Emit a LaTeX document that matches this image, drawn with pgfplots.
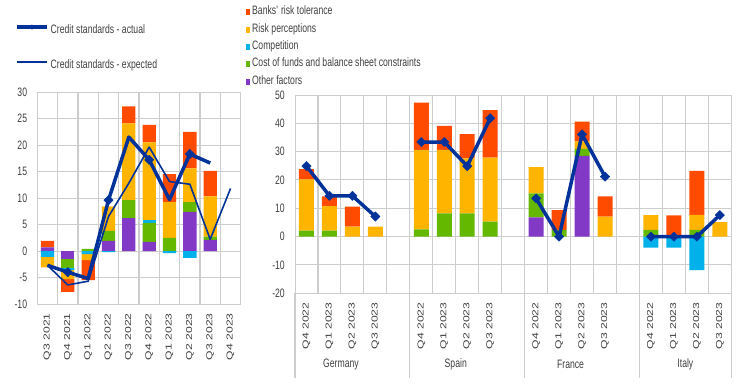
\documentclass[border=0pt]{standalone}
\usepackage{fontspec}
\setmainfont{Liberation Sans}[FakeStretch=0.71]
\newfontfamily\rotfont{Liberation Sans}
\usepackage{pgfplots}
\pgfplotsset{compat=1.18}
\usepackage{pgfplotstable}
\definecolor{cRed}{HTML}{FF4B00}
\definecolor{cYel}{HTML}{FFB400}
\definecolor{cCya}{HTML}{00B1EA}
\definecolor{cGre}{HTML}{65B800}
\definecolor{cPur}{HTML}{8139C6}
\definecolor{cLine}{HTML}{003299}
\definecolor{gridc}{HTML}{CDCDCD}
\definecolor{txt}{HTML}{404040}
\newcommand\fs{\fontsize{12.2}{14}\selectfont}
\newcommand\sq[1]{\scalebox{1}[0.71]{\rotfont #1}}
\tikzset{vgrid/.style={gridc, line width=1.1pt}}

\pgfplotstableread{
x oth cost comp risk bank
0 0.7 0 0 0 1.2
1 0 0 0 0 0
2 0 0.4 0 0 0
3 1.9 1.9 0 4.6 0
4 6.2 3.4 0 14.5 3.2
5 1.7 3.6 0.5 14.7 3.3
6 0 2.5 0 6.7 5.3
7 7.4 1.8 0 6.4 6.9
8 2.1 0.6 0 7.6 4.8
}\LposT
\pgfplotstableread{
x oth cost comp risk bank
0 0 0 -1.1 -2.0 0
1 -1.6 -1.6 -0.4 -1.7 -2.4
2 0 0 -0.6 -1.1 -3.8
3 0 0 -0.2 0 0
6 0 0 -0.4 0 0
7 0 0 -1.3 0 0
}\LnegT
\pgfplotstableread{
x oth cost comp risk bank
0 0 2.1 0 18.1 3.6
1 0 2.1 0 8.7 3.4
2 0 0 0 3.5 7.1
3 0 0 0 3.5 0
5 0 2.6 0 28.0 16.7
6 0 8.2 0 22.4 8.5
7 0 8.2 0 19.4 8.6
8 0 5.3 0 22.6 16.8
10 6.8 8.5 0 9.2 0
11 0 2.4 0 0 7.0
12 28.5 2.5 0 2.6 7.0
13 0 0 0 7.1 7.1
15 0 2.4 0 5.2 0
16 0 0 0 0 7.5
17 0 2.4 0 5.3 15.5
18 0 0 0 5.1 0
}\RposT
\pgfplotstableread{
x comp
15 -3.9
16 -3.9
17 -11.8
}\RnegT

\pgfplotsset{
  base/.style={scale only axis, anchor=south west, enlargelimits=false,
    /pgf/number format/assume math mode=true,
    tick label style={font=\fs, text=txt}},
  Lgeom/.style={at={(37.3pt,80pt)}, width=203.4pt, height=212pt,
    xmin=-0.5, xmax=9.5, ymin=-10, ymax=30},
  Rgeom/.style={at={(295pt,90.7pt)}, width=436.3pt, height=198.3pt,
    xmin=-0.5, xmax=18.5, ymin=-20, ymax=50},
  frame/.style={axis line style={gridc, line width=1pt},
    grid style={gridc, line width=1pt},
    major tick length=0pt,
    tick align=outside, xtick pos=left, ytick pos=left,
    ymajorgrids=true,
    yticklabel style={inner sep=0pt, xshift=-10pt},
    xticklabel style={rotate=90, anchor=east, inner sep=0pt},
    xticklabel shift=9pt},
  sqleg/.style={legend image code/.code={\fill[##1] (0pt,-3pt) rectangle (4pt,3pt);}},
  actleg/.style={legend image code/.code={\draw[##1, mark size=1.6pt] plot coordinates {(0pt,3.5pt) (15pt,3.5pt) (30pt,3.5pt)};}},
  expleg/.style={legend image code/.code={\draw[##1] (0pt,3.5pt) -- (30pt,3.5pt);}},
  actual/.style={cLine, line width=3.5pt, line join=round, mark=square*, mark size=3.3pt,
    mark options={rotate=45, line width=0.4pt, solid}},
}

\begin{document}
\begin{tikzpicture}
\useasboundingbox (0,0) rectangle (743pt,384pt);
% ---------------- left panel ----------------
\begin{axis}[base, Lgeom, frame, ybar stacked, bar width=13.3pt,
  ytick={-10,-5,...,30},
  xtick={0,...,9},
  xticklabels={\sq{Q3 2021},\sq{Q4 2021},\sq{Q1 2022},\sq{Q2 2022},\sq{Q3 2022},\sq{Q4 2022},\sq{Q1 2023},\sq{Q2 2023},\sq{Q3 2023},\sq{Q4 2023}}]
\pgfplotsinvokeforeach{0.5,1.5,2.5,3.5,4.5,5.5,6.5,7.5,8.5}{
  \draw[vgrid] (axis cs:#1,-10) -- (axis cs:#1,30);
}
\addplot[fill=cPur, draw=none] table[x=x,y=oth]{\LposT};
\addplot[fill=cGre, draw=none] table[x=x,y=cost]{\LposT};
\addplot[fill=cCya, draw=none] table[x=x,y=comp]{\LposT};
\addplot[fill=cYel, draw=none] table[x=x,y=risk]{\LposT};
\addplot[fill=cRed, draw=none] table[x=x,y=bank]{\LposT};
\end{axis}
\begin{axis}[base, Lgeom, hide axis, ybar stacked, bar width=13.3pt]
\addplot[fill=cPur, draw=none] table[x=x,y=oth]{\LnegT};
\addplot[fill=cGre, draw=none] table[x=x,y=cost]{\LnegT};
\addplot[fill=cCya, draw=none] table[x=x,y=comp]{\LnegT};
\addplot[fill=cYel, draw=none] table[x=x,y=risk]{\LnegT};
\addplot[fill=cRed, draw=none] table[x=x,y=bank]{\LnegT};
\end{axis}
\begin{axis}[base, Lgeom, hide axis,
  legend cell align=left,
  legend style={at={(-0.1096,1.318)}, anchor=north west, draw=none, fill=none,
    font=\fs, text=txt, inner sep=0pt, row sep=24pt,
    nodes={inner sep=0pt, text height=8pt, text depth=3pt},
    /tikz/every odd column/.append style={column sep=2pt}}]
\addplot[actual, actleg, mark repeat=2, mark phase=2]
  coordinates {(0,-2.7) (1,-4.0) (2,-5.2) (3,9.6) (4,21.5) (5,17.2) (6,9.7) (7,18.3) (8,16.6)};
\addlegendentry{Credit standards - actual}
\addplot[cLine, line width=1.6pt, line join=round, mark=none, expleg]
  coordinates {(0,-2.7) (1,-6.4) (2,-5.7) (3,6.5) (4,12.8) (5,19.6) (6,13.1) (7,12.6) (8,2.2) (9,11.8)};
\addlegendentry{Credit standards - expected}
\end{axis}
% ---------------- right panel ----------------
\begin{axis}[base, Rgeom, frame, ybar stacked, bar width=15pt, clip=false,
  ytick={-20,-10,...,50},
  xtick={0,1,2,3,5,6,7,8,10,11,12,13,15,16,17,18},
  xticklabels={\sq{Q4 2022},\sq{Q1 2023},\sq{Q2 2023},\sq{Q3 2023},
               \sq{Q4 2022},\sq{Q1 2023},\sq{Q2 2023},\sq{Q3 2023},
               \sq{Q4 2022},\sq{Q1 2023},\sq{Q2 2023},\sq{Q3 2023},
               \sq{Q4 2022},\sq{Q1 2023},\sq{Q2 2023},\sq{Q3 2023}},
  reverse legend,
  legend cell align=left,
  legend style={at={(-0.1123,1.4463)}, anchor=north west, draw=none, fill=none,
    font=\fs, text=txt, inner sep=0pt, row sep=6.4pt,
    nodes={inner sep=0pt, text height=8pt, text depth=3pt},
    /tikz/every odd column/.append style={column sep=2pt}}]
\pgfplotsinvokeforeach{0.5,1.5,2.5,3.5,4.5,5.5,6.5,7.5,8.5,9.5,10.5,11.5,12.5,13.5,14.5,15.5,16.5,17.5}{
  \draw[vgrid] (axis cs:#1,-20) -- (axis cs:#1,50);
}
\pgfplotsinvokeforeach{-0.5,4.5,9.5,14.5,18.5}{
  \draw[vgrid] (axis cs:#1,-20) -- ++(0pt,-85pt);
}
\addplot[fill=cPur, draw=none, sqleg] table[x=x,y=oth]{\RposT};
\addplot[fill=cGre, draw=none, sqleg] table[x=x,y=cost]{\RposT};
\addplot[fill=cCya, draw=none, sqleg] table[x=x,y=comp]{\RposT};
\addplot[fill=cYel, draw=none, sqleg] table[x=x,y=risk]{\RposT};
\addplot[fill=cRed, draw=none, sqleg] table[x=x,y=bank]{\RposT};
\legend{Other factors, Cost of funds and balance sheet constraints, Competition, Risk perceptions, Banks\textquotesingle\ risk tolerance}
\node[font=\fs, text=txt] at (axis cs:1.5,-20) [yshift=-71pt] {Germany};
\node[font=\fs, text=txt] at (axis cs:6.5,-20) [yshift=-71pt] {Spain};
\node[font=\fs, text=txt] at (axis cs:11.5,-20) [yshift=-71pt] {France};
\node[font=\fs, text=txt] at (axis cs:16.5,-20) [yshift=-71pt] {Italy};
\end{axis}
\begin{axis}[base, Rgeom, hide axis, ybar stacked, bar width=15pt]
\addplot[fill=cCya, draw=none] table[x=x,y=comp]{\RnegT};
\end{axis}
\begin{axis}[base, Rgeom, hide axis]
\addplot[actual] coordinates {(0,24.9) (1,14.4) (2,14.4) (3,7.1)};
\addplot[actual] coordinates {(5,33.4) (6,33.4) (7,24.9) (8,41.8)};
\addplot[actual] coordinates {(10,13.5) (11,0) (12,36.1) (13,21.2)};
\addplot[actual] coordinates {(15,0) (16,0) (17,0) (18,7.6)};
\end{axis}
\end{tikzpicture}
\end{document}
